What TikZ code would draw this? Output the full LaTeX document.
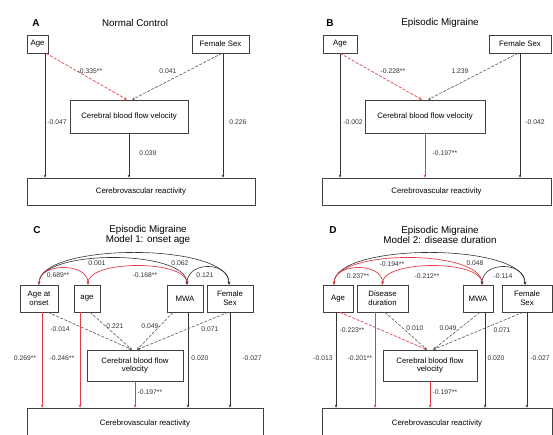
\documentclass[tikz,border=0pt]{standalone}
\usepackage{fontspec}
\setmainfont{Liberation Sans}
\usetikzlibrary{arrows.meta}

\definecolor{sigred}{RGB}{226,62,74}

\begin{document}
\begin{tikzpicture}[x=1pt, y=-1pt, >={Stealth[length=3pt,width=2.6pt]},
  box/.style={draw=black!75, line width=0.6pt, inner sep=0pt, align=center, font=\fontsize{7.8}{8.6}\selectfont},
  coef/.style={font=\fontsize{6.8}{7.5}\selectfont, text=black!80, inner sep=0.5pt},
  ttl/.style={font=\fontsize{9.8}{10}\selectfont, align=center},
  tag/.style={font=\fontsize{10}{11}\selectfont\bfseries},
  sig/.style={->, sigred, line width=0.7pt},
  ns/.style={->, black!80, line width=0.6pt},
  sigd/.style={sig, dash pattern=on 3pt off 1.5pt},
  nsd/.style={ns, black!65, dash pattern=on 3pt off 1.5pt},
]
\useasboundingbox (0,0) rectangle (553,435);

% --- Panel A: normal control ---
\node[tag] (tagA) at (36,23) {A};
\node[ttl] (ttlA) at (135,23) {Normal Control};
\node[box, minimum width=21pt, minimum height=18pt] (ageA) at (37.5,44) {Age};
\node[box, minimum width=57pt, minimum height=18pt] (sexA) at (220.5,44) {Female Sex};
\node[box, minimum width=118pt, minimum height=33pt] (cbfA) at (129,116.5) {Cerebral blood flow velocity};
\node[box, minimum width=228pt, minimum height=27pt] (crA) at (141,191.5) {Cerebrovascular reactivity};
\coordinate (ageAo) at ([xshift=7.5pt]ageA.south);
\coordinate (sexAo) at ([xshift=2.5pt]sexA.south);
\draw[ns] (ageAo) -- (ageAo |- crA.north);
\draw[ns] (sexAo) -- (sexAo |- crA.north);
\draw[ns] (cbfA.south) -- (cbfA.south |- crA.north);
\draw[sigd] ([xshift=8.5pt]ageA.south) -- ([xshift=-2pt]cbfA.north);
\draw[nsd] ([xshift=1.5pt]sexA.south) -- ([xshift=3pt]cbfA.north);
\node[coef] (cA1) at (90,71) {-0.335**};
\node[coef] (cA2) at (168,71) {0.041};
\node[coef] (cA3) at (57,122) {-0.047};
\node[coef] (cA4) at (238,122) {0.226};
\node[coef] (cA5) at (148,153) {0.039};

% --- Panel B: episodic migraine ---
\node[tag] (tagB) at (330,23) {B};
\node[ttl] (ttlB) at (440,23) {Episodic Migraine};
\node[box, minimum width=34pt, minimum height=18pt] (ageB) at (340,44) {Age};
\node[box, minimum width=62pt, minimum height=18pt] (sexB) at (520,44) {Female Sex};
\node[box, minimum width=120pt, minimum height=33pt] (cbfB) at (425,116.5) {Cerebral blood flow velocity};
\node[box, minimum width=229pt, minimum height=27pt] (crB) at (436.5,191.5) {Cerebrovascular reactivity};
\draw[ns] (ageB.south) -- (ageB.south |- crB.north);
\draw[ns] (sexB.south) -- (sexB.south |- crB.north);
\draw[sig] (cbfB.south) -- (cbfB.south |- crB.north);
\draw[sigd] (ageB.south) -- ([xshift=-3pt]cbfB.north);
\draw[nsd] ([xshift=-2pt]sexB.south) -- ([xshift=3pt]cbfB.north);
\node[coef] (cB1) at (393,71) {-0.228**};
\node[coef] (cB2) at (460,71) {1.239};
\node[coef] (cB3) at (353,122) {-0.002};
\node[coef] (cB4) at (535,122) {-0.042};
\node[coef] (cB5) at (445,153) {-0.197**};

% --- Panel C: model 1, onset age ---
\node[tag] (tagC) at (37,230) {C};
\node[ttl] (ttlC) at (148,235) {Episodic Migraine\\Model 1: onset age};
\node[box, minimum width=38pt, minimum height=27pt] (onsC) at (39,298.5) {Age at\\onset};
\node[box, minimum width=26pt, minimum height=27pt] (ageC) at (87,298.5) {age};
\node[box, minimum width=36pt, minimum height=27pt] (mwaC) at (185,298.5) {MWA};
\node[box, minimum width=46pt, minimum height=27pt] (sexC) at (230,298.5) {Female\\Sex};
\node[box, minimum width=96pt, minimum height=31pt] (cbfC) at (135,365.5) {Cerebral blood flow\\velocity};
\node[box, minimum width=236pt, minimum height=30pt] (crC) at (145,423) {Cerebrovascular reactivity};
% covariances
\draw[ns, <->] (onsC.north) .. controls (39,242.3) and (229,242.3) .. ([xshift=-1pt]sexC.north);
\draw[ns, <->] (onsC.north) .. controls (39,249) and (187,249) .. ([xshift=2pt]mwaC.north);
\draw[sig, <->] (onsC.north) .. controls (39,262.3) and (88,262.3) .. ([xshift=1pt]ageC.north);
\draw[sig, <->] ([xshift=1pt]ageC.north) .. controls (88,259.7) and (187,259.7) .. ([xshift=2pt]mwaC.north);
\draw[ns, <->] ([xshift=2pt]mwaC.north) .. controls (187,261) and (229,261) .. ([xshift=-1pt]sexC.north);
% direct paths
\coordinate (onsCo) at ([xshift=3pt]onsC.south);
\coordinate (ageCo) at ([xshift=-7pt]ageC.south);
\coordinate (mwaCo) at ([xshift=3pt]mwaC.south);
\draw[sig] (onsCo) -- (onsCo |- crC.north);
\draw[sig] (ageCo) -- (ageCo |- crC.north);
\draw[ns] (mwaCo) -- (mwaCo |- crC.north);
\draw[ns] (sexC.south) -- (sexC.south |- crC.north);
\draw[sig] (cbfC.south) -- (cbfC.south |- crC.north);
% mediator paths
\draw[nsd] ([xshift=9pt]onsC.south) -- ([xshift=-3pt]cbfC.north);
\draw[nsd] ([xshift=3pt]ageC.south) -- ([xshift=-3pt]cbfC.north);
\draw[nsd] ([xshift=-12pt]mwaC.south) -- ([xshift=2pt]cbfC.north);
\draw[nsd] ([xshift=-2pt]sexC.south) -- ([xshift=2pt]cbfC.north);
\node[coef] (cC1) at (97,263) {0.001};
\node[coef] (cC2) at (180,263) {0.062};
\node[coef] (cC3) at (58,275) {0.689**};
\node[coef] (cC4) at (145,275) {-0.168**};
\node[coef] (cC5) at (205,275) {0.121};
\node[coef] (cC6) at (60,329) {-0.014};
\node[coef] (cC7) at (115,326) {0.221};
\node[coef] (cC8) at (150,326) {0.049};
\node[coef] (cC9) at (210,329) {0.071};
\node[coef] (cC10) at (25,358) {0.269**};
\node[coef] (cC11) at (62,358) {-0.246**};
\node[coef] (cC12) at (200,358) {0.020};
\node[coef] (cC13) at (252,358) {-0.027};
\node[coef] (cC14) at (150,392) {-0.197**};

% --- Panel D: model 2, disease duration ---
\node[tag] (tagD) at (333,230) {D};
\node[ttl] (ttlD) at (440,235) {Episodic Migraine\\Model 2: disease duration};
\node[box, minimum width=30pt, minimum height=27pt] (ageD) at (338,298.5) {Age};
\node[box, minimum width=51pt, minimum height=27pt] (disD) at (382.5,298.5) {Disease\\duration};
\node[box, minimum width=30pt, minimum height=27pt] (mwaD) at (478,298.5) {MWA};
\node[box, minimum width=50pt, minimum height=27pt] (sexD) at (527,298.5) {Female\\Sex};
\node[box, minimum width=94pt, minimum height=31pt] (cbfD) at (430,365.5) {Cerebral blood flow\\velocity};
\node[box, minimum width=230pt, minimum height=30pt] (crD) at (437,423) {Cerebrovascular reactivity};
% covariances
\draw[ns, <->] ([xshift=-4pt]ageD.north) .. controls (334,242.3) and (525,242.3) .. ([xshift=-2pt]sexD.north);
\draw[sig, <->] ([xshift=-4pt]ageD.north) .. controls (334,249) and (482,249) .. ([xshift=4pt]mwaD.north);
\draw[sig, <->] ([xshift=-4pt]ageD.north) .. controls (334,262.3) and (383,262.3) .. (disD.north);
\draw[sig, <->] (disD.north) .. controls (383,259.7) and (482,259.7) .. ([xshift=4pt]mwaD.north);
\draw[ns, <->] ([xshift=4pt]mwaD.north) .. controls (482,261) and (525,261) .. ([xshift=-2pt]sexD.north);
% direct paths
\coordinate (ageDo) at ([xshift=-2pt]ageD.south);
\coordinate (disDo) at ([xshift=-7.5pt]disD.south);
\coordinate (mwaDo) at ([xshift=7pt]mwaD.south);
\draw[ns] (ageDo) -- (ageDo |- crD.north);
\draw[sig] (disDo) -- (disDo |- crD.north);
\draw[ns] (mwaDo) -- (mwaDo |- crD.north);
\draw[ns] (sexD.south) -- (sexD.south |- crD.north);
\draw[sig] (cbfD.south) -- (cbfD.south |- crD.north);
% mediator paths
\draw[sigd] ([xshift=2pt]ageD.south) -- ([xshift=-3pt]cbfD.north);
\draw[nsd] ([xshift=2.5pt]disD.south) -- ([xshift=-3pt]cbfD.north);
\draw[nsd] ([xshift=2pt]mwaD.south) -- ([xshift=3pt]cbfD.north);
\draw[nsd] ([xshift=-4pt]sexD.south) -- ([xshift=3pt]cbfD.north);
\node[coef] (cD1) at (392,264) {-0.194**};
\node[coef] (cD2) at (475,263) {0.048};
\node[coef] (cD3) at (358,276) {0.237**};
\node[coef] (cD4) at (427,276) {-0.212**};
\node[coef] (cD5) at (503,276) {-0.114};
\node[coef] (cD6) at (352,330) {-0.223**};
\node[coef] (cD7) at (415,328) {0.010};
\node[coef] (cD8) at (448,328) {0.049};
\node[coef] (cD9) at (502,330) {0.071};
\node[coef] (cD10) at (323,358) {-0.013};
\node[coef] (cD11) at (360,358) {-0.201**};
\node[coef] (cD12) at (496,358) {0.020};
\node[coef] (cD13) at (540,358) {-0.027};
\node[coef] (cD14) at (445,392) {-0.197**};
\end{tikzpicture}
\end{document}
